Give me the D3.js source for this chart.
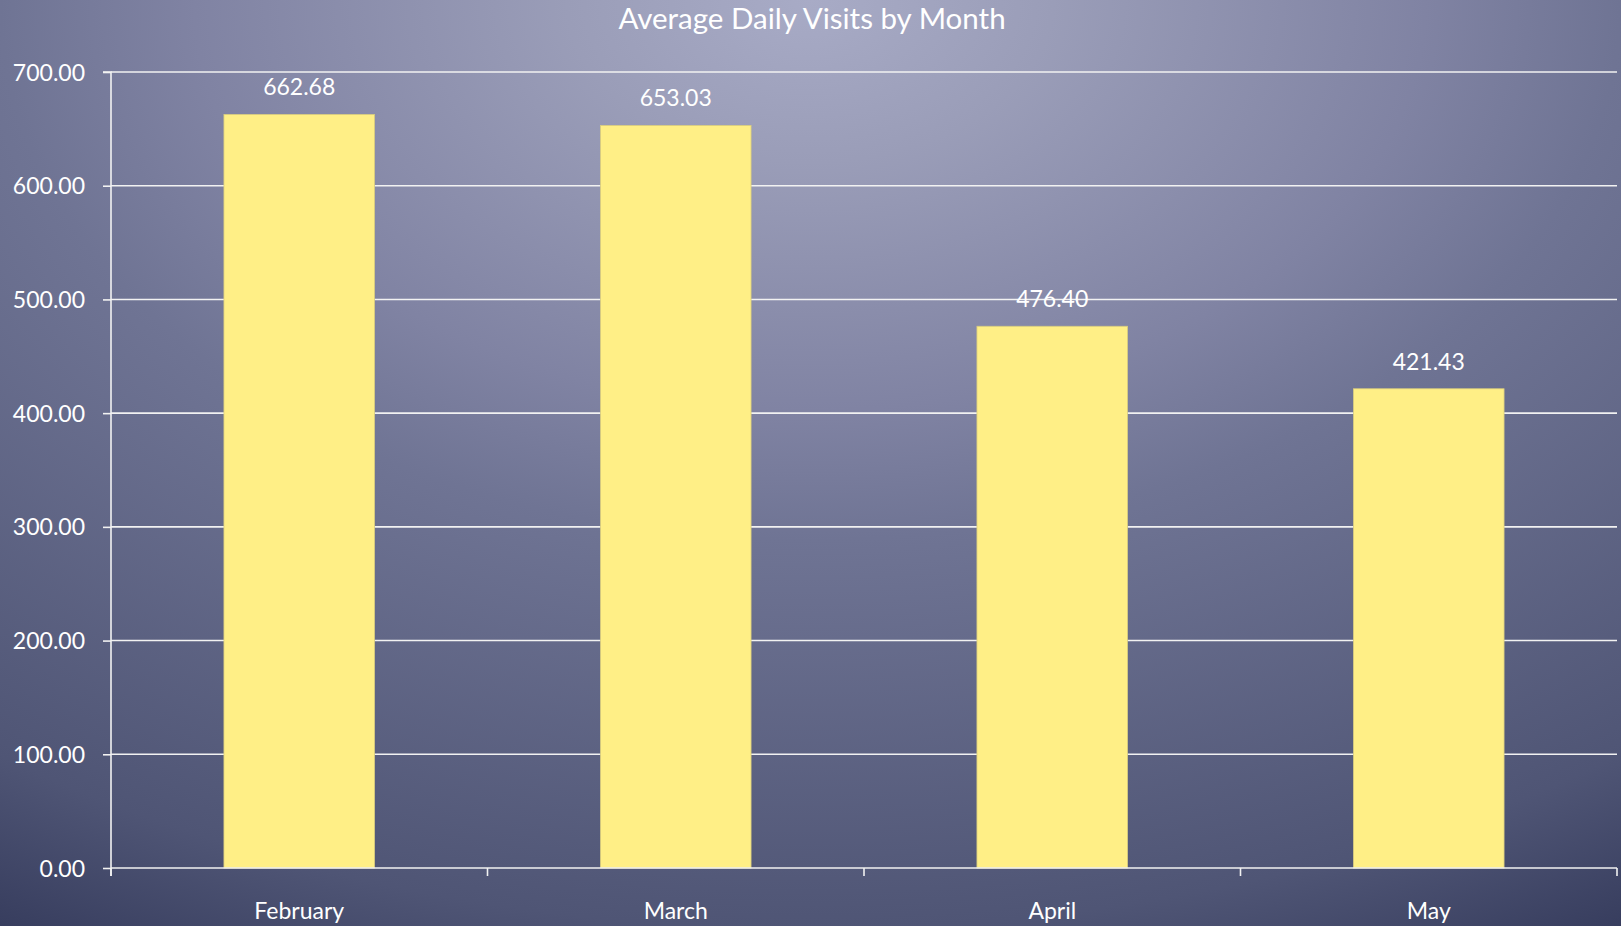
<!DOCTYPE html>
<html>
<head>
<meta charset="utf-8">
<script src="https://cdn.jsdelivr.net/npm/d3@7"></script>
<style>
  html, body { margin: 0; padding: 0; background: #363c5d; }
  svg { display: block; }
  text { font-family: Lato, "Open Sans", sans-serif; fill: #ffffff; }
</style>
</head>
<body>
<div id="wrapper"></div>
<script>
// data
const months = ["February", "March", "April", "May"];
const visits = [662.68, 653.03, 476.40, 421.43];
const yTicks = [0, 100, 200, 300, 400, 500, 600, 700];
const chartTitle = "Average Daily Visits by Month";

let dimensions = {
	width: 1621,
	height: 926,
	margin: {
		top: 72,
		right: 4,
		bottom: 58,
		left: 111
	}
};
dimensions.boundedWidth = dimensions.width - dimensions.margin.left - dimensions.margin.right;
dimensions.boundedHeight = dimensions.height - dimensions.margin.top - dimensions.margin.bottom;

const wrapper = d3.select("#wrapper").append("svg")
	.attr("width", dimensions.width)
	.attr("height", dimensions.height);

// background: wide elliptical glow from the top centre
const defs = wrapper.append("defs");
const grad = defs.append("radialGradient")
	.attr("id", "bg")
	.attr("gradientUnits", "userSpaceOnUse")
	.attr("cx", 0).attr("cy", 0).attr("r", 1)
	.attr("gradientTransform", "translate(810,0) scale(1620,1080)");
[["0", "#a8abc6"], ["0.15", "#9a9db8"], ["0.38", "#8083a3"], ["0.5", "#6f7494"], ["0.86", "#4f5575"], ["1", "#363c5d"]]
	.forEach(s => grad.append("stop").attr("offset", s[0]).attr("stop-color", s[1]));

wrapper.append("rect")
	.attr("width", dimensions.width)
	.attr("height", dimensions.height)
	.attr("fill", "url(#bg)");

wrapper.append("text")
	.attr("x", 812)
	.attr("y", 29)
	.attr("text-anchor", "middle")
	.style("font-size", "29.5px")
	.text(chartTitle);

const container = wrapper.append("g")
	.attr("transform", `translate(${dimensions.margin.left},${dimensions.margin.top})`);

const xScale = d3.scaleBand()
	.domain(months)
	.range([0, dimensions.boundedWidth])
	.paddingInner(0.6)
	.paddingOuter(0.3);

const yScale = d3.scaleLinear()
	.domain([0, 700])
	.range([dimensions.boundedHeight, 0]);

// gridlines
container.append("g")
	.selectAll("line")
	.data(yTicks.slice(1))
	.enter()
	.append("line")
	.attr("x1", 0)
	.attr("x2", dimensions.boundedWidth)
	.attr("y1", d => yScale(d))
	.attr("y2", d => yScale(d))
	.attr("stroke", "#f2f2f2")
	.attr("stroke-width", 1.6);

// bars
container.append("g")
	.selectAll("rect")
	.data(visits)
	.enter()
	.append("rect")
	.attr("x", (d, i) => xScale(months[i]))
	.attr("y", d => yScale(d))
	.attr("width", xScale.bandwidth())
	.attr("height", d => dimensions.boundedHeight - yScale(d))
	.attr("fill", "#ffef86")
	.attr("stroke", "#d9cd7e")
	.attr("stroke-width", 0.8);

// value labels
container.append("g")
	.selectAll("text")
	.data(visits)
	.enter()
	.append("text")
	.attr("x", (d, i) => xScale(months[i]) + xScale.bandwidth() / 2)
	.attr("y", d => yScale(d) - 19)
	.attr("text-anchor", "middle")
	.style("font-size", "23px")
	.text(d => d.toFixed(2));

// y axis
const yAxisGen = d3.axisLeft(yScale)
	.tickValues(yTicks)
	.tickSize(8)
	.tickPadding(18)
	.tickFormat(d => d.toFixed(2));
const axisY = container.append("g").call(yAxisGen);
axisY.select(".domain").attr("stroke", "#f2f2f2").attr("stroke-width", 1.6)
	.attr("d", `M-8,0H0V${dimensions.boundedHeight + 8}`);
axisY.selectAll(".tick line").attr("stroke", "#f2f2f2").attr("stroke-width", 1.6);
axisY.selectAll(".tick text")
	.attr("fill", "#ffffff")
	.attr("dy", "0.35em")
	.style("font-size", "23px")
	.style("font-family", "Lato, 'Open Sans', sans-serif");

// x axis: ticks on category boundaries
const boundaries = months.map(m => xScale(m) - xScale.step() * xScale.paddingInner() / 2)
	.concat([dimensions.boundedWidth]);
const axisX = container.append("g")
	.attr("transform", `translate(0,${dimensions.boundedHeight})`);
axisX.append("line")
	.attr("x1", 0).attr("x2", dimensions.boundedWidth)
	.attr("stroke", "#f2f2f2").attr("stroke-width", 1.6);
axisX.selectAll(".bound")
	.data(boundaries)
	.enter()
	.append("line")
	.attr("class", "bound")
	.attr("x1", d => Math.max(0, d)).attr("x2", d => Math.max(0, d))
	.attr("y1", 0).attr("y2", 8)
	.attr("stroke", "#f2f2f2").attr("stroke-width", 1.6);
axisX.selectAll(".cat")
	.data(months)
	.enter()
	.append("text")
	.attr("class", "cat")
	.attr("x", d => xScale(d) + xScale.bandwidth() / 2)
	.attr("y", 51)
	.attr("text-anchor", "middle")
	.style("font-size", "23px")
	.text(d => d);
</script>
</body>
</html>
